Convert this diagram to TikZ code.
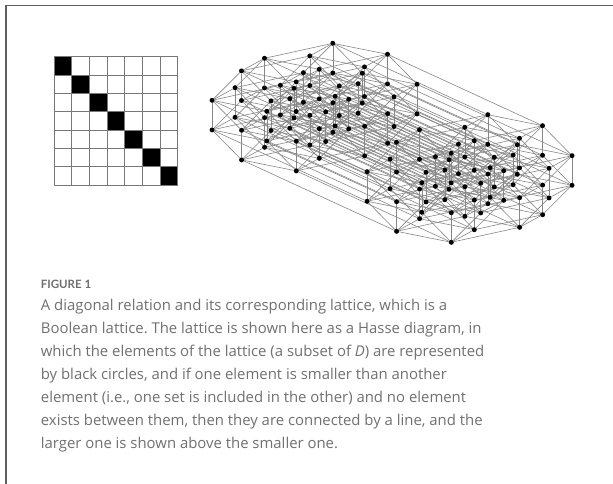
\documentclass[tikz,border=0pt]{standalone}
\usepackage{fontspec}
\setmainfont{Open Sans}
\newfontfamily\figfont{Lato}
\frenchspacing
\usetikzlibrary{backgrounds}
\definecolor{framec}{RGB}{95,95,95}
\definecolor{gridc}{RGB}{120,120,120}
\definecolor{edgec}{RGB}{135,135,135}
\definecolor{capc}{RGB}{112,112,112}
\definecolor{figc}{RGB}{110,110,110}
\tikzset{
  dot/.style={circle, fill=black, inner sep=0pt, minimum size=5pt},
  edgeline/.style={draw=edgec, line width=0.6pt},
  gridline/.style={draw=gridc, line width=0.7pt},
  capline/.style={anchor=base west, inner sep=0pt, text=capc, font=\frenchspacing\fontsize{14.9}{18}\selectfont},
  figlabel/.style={anchor=base west, inner sep=0pt, text=figc, font=\figfont\bfseries\fontsize{11.5}{14}\selectfont},
  framel/.style={draw=framec, line width=1.2pt}
}
\begin{document}
\begin{tikzpicture}[x=1pt,y=-1pt]
\useasboundingbox (0,0) rectangle (613,484);
% frame
\coordinate (fTL) at (6,5.5);
\coordinate (fTR) at (613,5.5);
\coordinate (fBL) at (6,484);
\draw[framel] (fBL) -- (fTL) -- (fTR);
% matrix grid
\foreach \r in {0,...,6}{
  \fill[black] ({54+17.67*\r},{56.7+18.33*\r}) rectangle ({54+17.67*(\r+1)},{56.7+18.33*(\r+1)});
}
\foreach \c in {0,...,7}{
  \draw[gridline] ({54+17.67*\c},56.7) -- ({54+17.67*\c},185);
  \draw[gridline] (54,{56.7+18.33*\c}) -- (177.7,{56.7+18.33*\c});
}
% lattice nodes
\foreach \i in {0,...,127}{
  \pgfmathsetmacro{\px}{451.3 + 68.3*mod(\i,2) + 23*mod(floor(\i/2),2) + 29.4*mod(floor(\i/4),2) - 29.5*mod(floor(\i/16),2) - 155*mod(floor(\i/32),2) - 54.7*mod(floor(\i/64),2)}
  \pgfmathsetmacro{\py}{242.3 - 15*mod(\i,2) - 12.6*mod(floor(\i/2),2) - 29.4*mod(floor(\i/4),2) - 29.6*mod(floor(\i/8),2) - 30*mod(floor(\i/16),2) - 71.4*mod(floor(\i/32),2) - 11*mod(floor(\i/64),2)}
  \node[dot] (n\i) at (\px,\py) {};
}
% lattice edges
\begin{pgfonlayer}{background}
\foreach \i in {0,...,127}{
  \foreach \k in {0,...,6}{
    \pgfmathtruncatemacro{\bit}{mod(floor(\i/pow(2,\k)),2)}
    \pgfmathtruncatemacro{\j}{\i+pow(2,\k)}
    \ifnum\bit=0
      \draw[edgeline] (n\i) -- (n\j);
    \fi
  }
}
\end{pgfonlayer}
% caption
\node[figlabel] (fig) at (40.7,288) {FIGURE 1};
\node[capline] (c1) at (40.7,310.5) {A diagonal relation and its corresponding lattice, which is a};
\node[capline] (c2) at (40.7,333.5) {Boolean lattice. The lattice is shown here as a Hasse diagram, in};
\node[capline] (c3) at (40.7,356.5) {which the elements of the lattice (a subset of \textit{D}) are represented};
\node[capline] (c4) at (40.7,379.5) {by black circles, and if one element is smaller than another};
\node[capline] (c5) at (40.7,402.5) {element (i.e., one set is included in the other) and no element};
\node[capline] (c6) at (40.7,425.5) {exists between them, then they are connected by a line, and the};
\node[capline] (c7) at (40.7,448.5) {larger one is shown above the smaller one.};
\end{tikzpicture}
\end{document}
